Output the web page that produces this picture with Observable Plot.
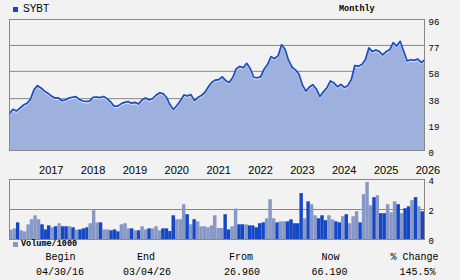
<!DOCTYPE html>
<html><head><meta charset="utf-8">
<script src="https://cdn.jsdelivr.net/npm/d3@7"></script>
<script src="https://cdn.jsdelivr.net/npm/@observablehq/plot@0.6"></script>
<style>
body{margin:0;background:#f2f2f2;}
#wrap{position:relative;width:460px;height:280px;background:#f2f2f2;overflow:hidden;}
.abs{position:absolute;white-space:nowrap;line-height:1;color:#000;}
.abs svg{display:block;}
</style></head><body><div id="wrap"></div>
<script>
const symbol = "SYBT";
const period = "Monthly";
const volumeLabel = "Volume/1000";
// monthly closes, Apr 2016 .. Mar 2026
const price = [
27.0,30.2,29.0,31.0,33.3,34.6,37.5,44.6,47.5,45.8,
43.5,42.0,40.0,38.5,38.5,36.5,37.0,38.5,39.0,39.5,
37.4,36.3,35.9,36.2,39.0,39.2,38.8,39.6,38.0,35.5,
32.5,32.5,34.2,35.3,35.9,34.7,35.3,34.0,37.0,38.5,
37.0,37.9,40.5,42.2,41.7,39.0,33.5,30.0,33.0,36.4,
40.7,40.0,41.0,36.5,38.8,40.4,42.5,46.8,50.0,51.6,
52.0,54.0,51.2,49.8,53.5,60.0,61.6,60.7,63.9,59.9,
53.7,53.3,54.0,59.5,63.0,68.8,67.3,69.5,77.5,74.0,
66.0,61.0,58.9,56.0,48.0,43.5,46.5,48.2,45.0,39.5,
43.0,46.0,51.0,49.5,46.7,48.5,46.2,47.5,52.0,62.3,
61.8,63.0,66.5,75.2,72.5,73.7,72.5,70.0,72.5,73.8,
79.0,76.5,80.0,72.5,65.6,66.5,66.1,67.0,64.5,66.19];
// monthly volume (thousands)
const volume = [
0.62,0.71,1.11,0.58,0.51,0.98,1.32,1.58,1.32,0.98,
0.64,0.91,0.78,0.85,1.05,0.85,0.85,0.85,0.78,0.62,
0.64,0.71,0.78,1.05,1.92,1.11,1.11,0.64,0.64,0.58,
0.64,0.51,0.98,1.05,0.71,0.71,0.58,0.58,0.85,0.64,
0.71,0.71,0.85,0.58,0.71,0.71,0.53,1.58,1.32,1.32,
2.32,1.65,0.98,1.32,1.18,0.85,0.85,0.78,0.91,1.58,
0.73,0.73,1.65,0.64,0.85,2.03,0.98,0.98,0.98,0.91,
0.91,0.78,1.05,1.11,1.38,2.65,1.38,1.11,1.18,1.18,
1.18,1.31,1.05,1.05,3.06,1.38,2.51,2.32,1.58,1.38,
1.58,1.25,1.58,1.31,1.18,1.11,1.52,1.65,1.05,1.52,
1.85,1.11,2.99,3.80,2.25,2.79,2.92,1.72,1.72,2.32,
1.78,2.51,2.32,1.72,2.05,2.18,2.59,2.79,2.18,1.85];
// 1 = dark bar, 0 = light bar
const volDark = [
0,0,1,0,0,0,0,0,0,1,
1,1,0,1,0,1,1,0,1,0,
1,1,1,0,0,0,1,0,0,1,
1,1,0,0,0,1,0,1,0,0,
1,0,0,0,1,1,1,1,0,0,
0,1,0,1,0,0,0,0,0,0,
0,0,1,1,0,0,1,1,0,1,
1,1,1,1,0,0,0,1,0,0,
1,1,1,1,1,0,1,0,0,1,
1,1,0,0,1,1,0,1,0,0,
0,1,0,0,0,1,0,1,1,0,
0,0,1,0,1,1,0,1,0,1];
const priceTicks = [0,19,38,58,77,96];
const volTicks = [0,2,4];
const yearLabels = [2017,2018,2019,2020,2021,2022,2023,2024,2025,2026];
const statNames = ["Begin","End","From","Now","% Change"];
const statValues = ["04/30/16","03/04/26","26.960","66.190","145.5%"];

const C = {bg:"#f2f2f2", grid:"#888888", line:"#1a4cc8", area:"#9db0de", dark:"#1446c6", light:"#8798c6"};
const mono = "'Liberation Mono', 'DejaVu Sans Mono', monospace";
const sans = "'Liberation Sans', Arial, sans-serif";

const wrap = document.getElementById("wrap");
function place(el, left, top){ el.classList.add("abs"); el.style.left = left+"px"; el.style.top = top+"px"; wrap.appendChild(el); return el; }
function text(str, left, top, size, family, opts={}){
  const d = document.createElement("div");
  d.textContent = str;
  d.style.fontSize = size+"px"; d.style.fontFamily = family;
  if (opts.bold) d.style.fontWeight = "bold";
  if (opts.center){ d.style.width = "100px"; d.style.textAlign = "center"; left -= 50; }
  return place(d, left, top);
}
function swatch(left, top, color){
  const d = document.createElement("div");
  d.style.width = "5px"; d.style.height = "5px"; d.style.background = color;
  return place(d, left, top);
}

const monthDate = i => new Date(Date.UTC(2016, 3 + i, 1));
const rows = price.map((p, i) => ({date: monthDate(i), price: p}));
const volRows = volume.map((v, i) => ({x1: monthDate(i), x2: monthDate(i + 1), v, dark: volDark[i]}));
const yearDates = yearLabels.map(y => new Date(Date.UTC(y, 0, 1)));

const priceChart = Plot.plot({
  width: 460, height: 180, marginTop: 19, marginBottom: 30, marginLeft: 9, marginRight: 36,
  style: {background: "transparent", overflow: "visible"},
  x: {type: "utc", domain: [rows[0].date, rows[rows.length-1].date], axis: null},
  y: {domain: [0, 96], axis: null},
  marks: [
    Plot.ruleY(priceTicks.filter(t => t > 0 && t < 96), {stroke: C.grid, strokeWidth: 1, strokeOpacity: 1}),
    Plot.areaY(rows, {x: "date", y: "price", fill: C.area}),
    Plot.lineY(rows, {x: "date", y: "price", stroke: "#ffffff", strokeWidth: 1, dy: 1.5, strokeOpacity: 0.8}),
    Plot.lineY(rows, {x: "date", y: "price", stroke: C.line, strokeWidth: 1.7}),
    Plot.frame({stroke: C.grid, strokeOpacity: 1}),
    Plot.axisY(priceTicks, {anchor: "right", label: null, tickSize: 0, tickPadding: 4, dy: 2.5, fontSize: 9, fontFamily: mono, fill: "#000"}),
    Plot.axisX(yearDates, {anchor: "bottom", label: null, tickSize: 0, tickPadding: 16, tickFormat: d => String(d.getUTCFullYear()), textAnchor: "start", dx: -2, fontSize: 11, fontFamily: sans, fill: "#000"})
  ]
});
place(priceChart, 0, 0);

const volChart = Plot.plot({
  width: 460, height: 72, marginTop: 4, marginBottom: 8, marginLeft: 9, marginRight: 36,
  style: {background: "transparent", overflow: "visible"},
  x: {type: "utc", domain: [monthDate(0), monthDate(volume.length)], axis: null},
  y: {domain: [0, 4], axis: null},
  marks: [
    Plot.ruleY([2], {stroke: C.grid, strokeOpacity: 1}),
    Plot.rectY(volRows, {x1: "x1", x2: "x2", y: "v", fill: d => d.dark ? C.dark : C.light, inset: 0}),
    Plot.frame({stroke: C.grid, strokeOpacity: 1}),
    Plot.axisY(volTicks, {anchor: "right", label: null, tickSize: 0, tickPadding: 4, dy: 2, fontSize: 9, fontFamily: mono, fill: "#000"})
  ]
});
place(volChart, 0, 175);

swatch(13, 7, C.dark);
text(symbol, 23, 3.7, 10, sans);
text(period, 339, 5, 8.5, mono, {bold: true});
swatch(13, 242, C.light);
text(volumeLabel, 21, 240, 8.5, mono, {bold: true});

const nameX = [60.5, 146, 241, 330.5, 414.5];
const valX = [60, 147, 242, 329.5, 417.5];
statNames.forEach((s, i) => text(s, nameX[i], 253, 10, mono, {center: true}));
statValues.forEach((s, i) => text(s, valX[i], 268, 10, mono, {center: true}));
</script></body></html>
